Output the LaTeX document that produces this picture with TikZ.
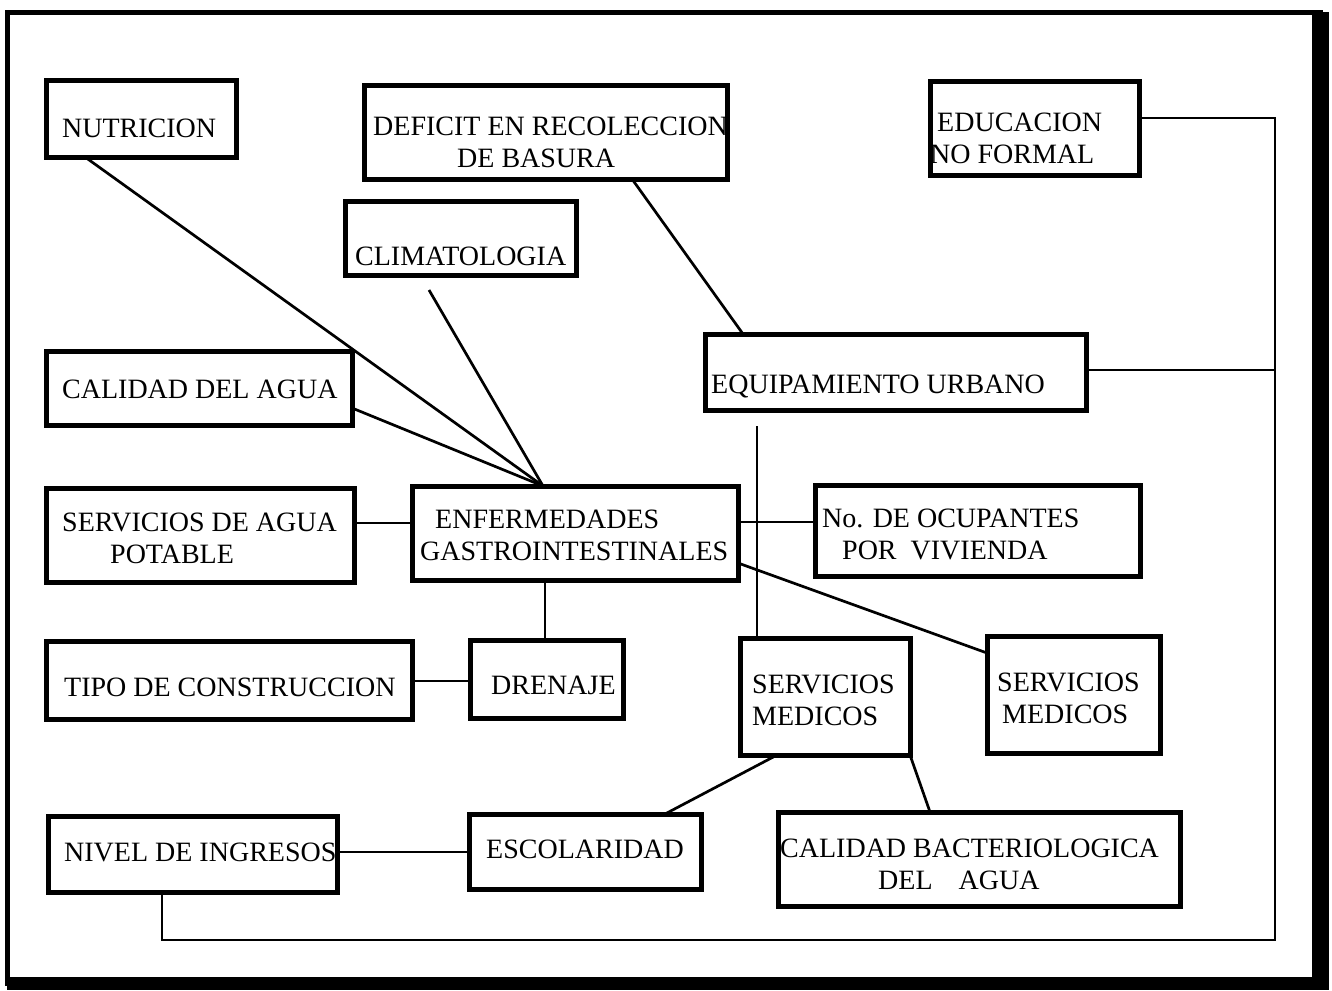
\documentclass[tikz,border=0pt]{standalone}
\usepackage{fontspec}
\setmainfont{Liberation Serif}
\usetikzlibrary{calc}

\tikzset{
  caja/.style={draw, line width=5pt, inner sep=0pt, outer sep=0pt, anchor=north west},
  rotulo/.style={anchor=base west, align=left, inner sep=0pt, font=\fontsize{28}{32}\selectfont},
  liga/.style={line width=2.7pt}
}

\begin{document}
\begin{tikzpicture}[x=1pt,y=-1pt]
\useasboundingbox (0,0) rectangle (1332,990);

% marco
\draw[line width=5pt] (7,12.5) rectangle (1320,983);
\fill (1312,12) rectangle (1329,990);
\fill (7,977) rectangle (1329,990);

\draw (46,80)   node (nut)  [caja, minimum width=190pt, minimum height=77pt, label={[rotulo, xshift=16pt, yshift=-57pt]north west:NUTRICION}] {};
\draw (364,85)  node (def)  [caja, minimum width=363pt, minimum height=94pt, label={[rotulo, xshift=9pt, yshift=-82pt]north west:DEFICIT EN RECOLECCION\\\hspace*{84pt}DE BASURA}] {};
\draw (345,201) node (clim) [caja, minimum width=231pt, minimum height=74pt, label={[rotulo, xshift=10pt, yshift=-64pt]north west:CLIMATOLOGIA}] {};
\draw (930,81)  node (edu)  [caja, minimum width=209pt, minimum height=94pt, label={[rotulo, xshift=0pt, yshift=-82pt]north west:\hspace*{7pt}EDUCACION\\NO FORMAL}] {};

\draw (46,351)  node (cal)  [caja, minimum width=306pt, minimum height=74pt, label={[rotulo, xshift=16pt, yshift=-47pt]north west:CALIDAD DEL AGUA}] {};
\draw (705,334) node (equ)  [caja, minimum width=381pt, minimum height=76pt, label={[rotulo, xshift=6pt, yshift=-59pt]north west:EQUIPAMIENTO URBANO}] {};

\draw (46,488)  node (agua) [caja, minimum width=308pt, minimum height=94pt, label={[rotulo, xshift=16pt, yshift=-75pt]north west:SERVICIOS DE AGUA\\\hspace*{48pt}POTABLE}] {};
\draw (412,486) node (enf)  [caja, minimum width=326pt, minimum height=94pt, label={[rotulo, xshift=8pt, yshift=-74pt]north west:\hspace*{15pt}ENFERMEDADES\\GASTROINTESTINALES}] {};
\draw (815,485) node (ocu)  [caja, minimum width=325pt, minimum height=91pt, label={[rotulo, xshift=7pt, yshift=-74pt]north west:No. DE OCUPANTES\\\hspace*{20pt}POR~~VIVIENDA}] {};

\draw (46,641)  node (tipo) [caja, minimum width=366pt, minimum height=78pt, label={[rotulo, xshift=18pt, yshift=-55pt]north west:TIPO DE CONSTRUCCION}] {};
\draw (470,640) node (dre)  [caja, minimum width=153pt, minimum height=78pt, label={[rotulo, xshift=21pt, yshift=-54pt]north west:DRENAJE}] {};
\draw (740,638) node (med1) [caja, minimum width=170pt, minimum height=117pt, label={[rotulo, xshift=12pt, yshift=-87pt]north west:SERVICIOS\\MEDICOS}] {};
\draw (987,636) node (med2) [caja, minimum width=173pt, minimum height=117pt, label={[rotulo, xshift=10pt, yshift=-87pt]north west:SERVICIOS\\\hspace*{5pt}MEDICOS}] {};

\draw (48,816)  node (niv)  [caja, minimum width=289pt, minimum height=76pt, label={[rotulo, xshift=16pt, yshift=-45pt]north west:NIVEL DE INGRESOS}] {};
\draw (469,814) node (esc)  [caja, minimum width=232pt, minimum height=75pt, label={[rotulo, xshift=17pt, yshift=-44pt]north west:ESCOLARIDAD}] {};
\draw (778,812) node (bac)  [caja, minimum width=402pt, minimum height=94pt, label={[rotulo, xshift=2pt, yshift=-77pt]north west:CALIDAD BACTERIOLOGICA\\\hspace*{98pt}DEL\hspace{26pt}AGUA}] {};

% ligas hacia enfermedades
\coordinate (enftop) at ($(enf.north west)+(131,0)$);
\draw[liga] ($(nut.south west)+(39,0)$) -- (enftop);
\draw[liga] ($(clim.south west)+(84,15)$) -- (enftop);
\draw[liga] ($(cal.north east)+(0,57)$) -- (enftop);
\draw[liga] ($(agua.north east)+(0,35)$) -- ($(enf.north west)+(0,37)$);
\draw[liga] ($(enf.north east)+(0,36)$) -- ($(ocu.north west)+(0,37)$);
\draw[liga] ($(enf.north east)+(0,77)$) -- ($(med2.north west)+(0,17)$);
\draw[liga] ($(enf.south west)+(133,0)$) -- ($(dre.north west)+(75,0)$);
\draw[liga] ($(tipo.north east)+(0,40)$) -- ($(dre.north west)+(0,41)$);

% demas ligas
\draw[liga] ($(def.south west)+(268,0)$) -- ($(equ.north west)+(38,0)$);
\draw[liga] ($(equ.south west)+(52,16)$) -- ($(med1.north west)+(17,0)$);
\draw[liga] ($(med1.south west)+(37,0)$) -- ($(esc.north west)+(196,0)$);
\draw[liga] (med1.south east) -- ($(bac.north west)+(152,0)$);
\draw[liga] ($(niv.north east)+(0,36)$) -- ($(esc.north west)+(0,38)$);

% vuelta exterior
\coordinate (vuelta) at (1275,940);
\draw[liga] ($(edu.north east)+(0,37)$) -| (vuelta) -| ($(niv.south west)+(114,0)$);
\draw[liga] ($(equ.north east)+(0,36)$) -| (vuelta);
\end{tikzpicture}
\end{document}
